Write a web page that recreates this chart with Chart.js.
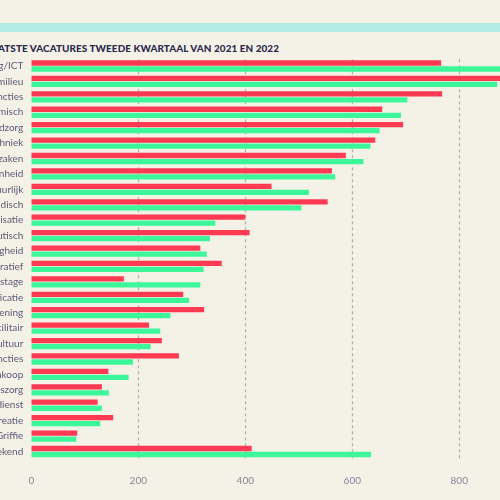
<!DOCTYPE html>
<html>
<head>
<meta charset="utf-8">
<script src="https://cdn.jsdelivr.net/npm/chart.js@4"></script>
<style>
  html, body { margin:0; padding:0; width:500px; height:500px; overflow:hidden; background:#f4f1e6; }
  #band { position:absolute; left:0; top:23px; width:500px; height:9px; background:#b2ece5; }
  #title { position:absolute; right:221px; top:42px; white-space:nowrap; font-family:Lato, sans-serif; font-weight:900; font-size:9.9px; color:#2b2a4c; letter-spacing:0.1px; }
  #wrap { position:absolute; left:-250px; top:0; width:845px; height:500px; }
</style>
</head>
<body>
<div id="band"></div>
<div id="title">MEEST GEPLAATSTE VACATURES TWEEDE KWARTAAL VAN 2021 EN 2022</div>
<div id="wrap"><canvas id="c" width="845" height="500" style="width:845px;height:500px"></canvas></div>
<script>
const categories = ["Automatisering/ICT","Natuur en milieu","Beleidsfuncties","Economisch","Jeugdzorg","Techniek","Personeelszaken","Eenheid","Bestuurlijk","Juridisch","Organisatie","Therapeutisch","Veiligheid","Administratief","Afstudeerstage","Communicatie","Dienstverlening","Facilitair","Cultuur","Managementfuncties","Inkoop","Gezondheidszorg","Buitendienst","Recreatie","Griffie","Onbekend"];
const values2021 = [766,910,768,656,695,643,588,562,449,554,400,408,316,356,173,284,323,220,244,276,144,132,124,153,86,412];
const values2022 = [940,871,703,691,651,634,621,568,519,505,344,334,328,322,316,295,260,241,223,190,182,145,132,129,84,635];
const xTicks = [0,200,400,600,800,1000];

const dashedGrid = {
  id: 'dashedGrid',
  beforeDatasetsDraw(chart) {
    const {ctx, chartArea, scales} = chart;
    const x = scales.x;
    ctx.save();
    ctx.strokeStyle = '#b3b0ab';
    ctx.lineWidth = 1.3;
    ctx.setLineDash([3, 3]);
    x.ticks.forEach(t => {
      if (t.value === 0) return;
      const px = Math.round(x.getPixelForValue(t.value)) + 0.5;
      ctx.beginPath();
      ctx.moveTo(px, chartArea.top + 1);
      ctx.lineTo(px, chartArea.bottom);
      ctx.stroke();
    });
    ctx.restore();
  }
};

new Chart(document.getElementById('c'), {
  type: 'bar',
  data: {
    labels: categories,
    datasets: [
      { label: '2021', data: values2021, backgroundColor: '#ff3a52', borderWidth: 0, categoryPercentage: 0.78, barPercentage: 0.88 },
      { label: '2022', data: values2022, backgroundColor: '#3cf79a', borderWidth: 0, categoryPercentage: 0.78, barPercentage: 0.88 }
    ]
  },
  plugins: [dashedGrid],
  options: {
    indexAxis: 'y',
    responsive: false,
    animation: false,
    devicePixelRatio: 1,
    layout: { padding: { top: 58.3, right: 14.2, left: 0, bottom: 0 } },
    plugins: { legend: { display: false }, title: { display: false }, tooltip: { enabled: false } },
    scales: {
      x: {
        min: 0, max: 1000,
        afterBuildTicks: (s) => { s.ticks = xTicks.map(v => ({ value: v })); },
        afterFit: (s) => { s.height = 40.8; },
        border: { display: false },
        grid: { display: false, drawTicks: false },
        ticks: { padding: 16, color: '#8a85a0', font: { family: 'Lato, sans-serif', size: 10 } }
      },
      y: {
        afterFit: (s) => { s.width = 281.3; },
        border: { display: false },
        grid: { display: false, drawTicks: false },
        ticks: { padding: 8, color: '#5e5977', font: { family: 'Lato, sans-serif', size: 10 } }
      }
    }
  }
});
</script>
</body>
</html>
